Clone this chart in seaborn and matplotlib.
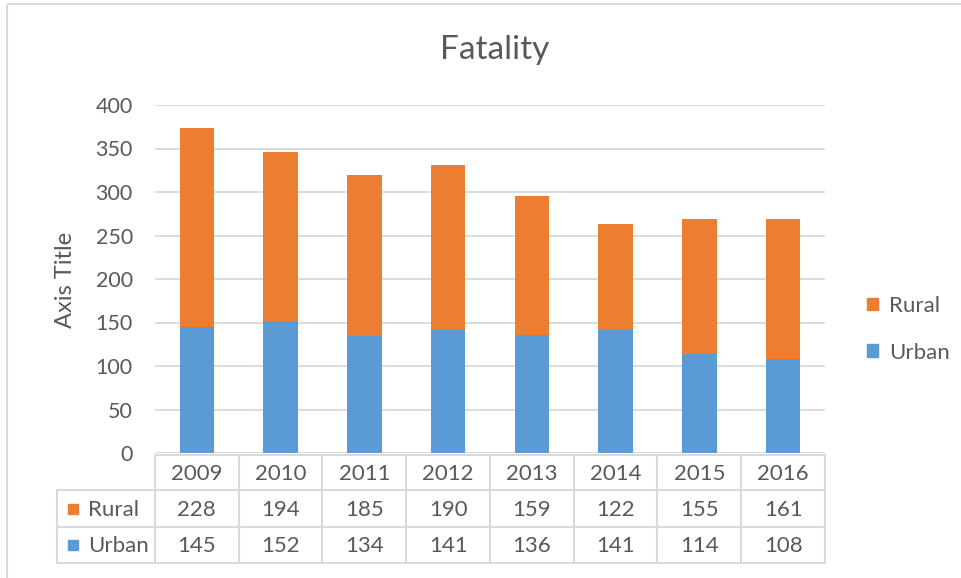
import matplotlib
matplotlib.use("Agg")
import matplotlib.pyplot as plt
from matplotlib.patches import Patch, Rectangle
import seaborn as sns
import pandas as pd

# data
years = ["2009", "2010", "2011", "2012", "2013", "2014", "2015", "2016"]
rural = [228, 194, 185, 190, 159, 122, 155, 161]
urban = [145, 152, 134, 141, 136, 141, 114, 108]

ORANGE = "#ED7D31"
BLUE = "#5B9BD5"
TXT = "#595959"
GRID = "#D9D9D9"
FS = 16

sns.set_theme(style="white")
plt.rcParams["font.family"] = ["Lato", "DejaVu Sans"]

W, H = 962, 578
fig = plt.figure(figsize=(W / 100, H / 100), dpi=100)
fig.patch.set_facecolor("white")

def fx(x):
    return x / W

def fy(y):
    return 1 - y / H

# plot area in pixel coordinates
L, R, T, B = 155, 825, 105, 453
ax = fig.add_axes([fx(L), fy(B), fx(R) - fx(L), fy(T) - fy(B)])

df = pd.DataFrame({"year": years, "Rural": rural, "Urban": urban})
df["total"] = df["Rural"] + df["Urban"]
sns.barplot(data=df, x="year", y="total", color=ORANGE, saturation=1,
            width=0.41, linewidth=0, ax=ax, zorder=3)
sns.barplot(data=df, x="year", y="Urban", color=BLUE, saturation=1,
            width=0.41, linewidth=0, ax=ax, zorder=3)

ax.set_xlim(-0.5, len(years) - 0.5)
ax.set_ylim(0, 400)
ax.set_yticks(range(0, 401, 50))
ax.set_xticks([])
ax.set_xlabel("")
ax.set_ylabel("")
ax.yaxis.grid(True, color=GRID, lw=1.3)
ax.set_axisbelow(True)
for s in ax.spines.values():
    s.set_visible(False)
ax.tick_params(axis="y", length=0, pad=16, labelsize=15.5, labelcolor=TXT)

fig.text(fx(495), fy(50), "Fatality", ha="center", va="center",
         fontsize=24, color=TXT)
fig.text(fx(66), fy(280), "Axis Title", ha="center", va="center",
         rotation=90, fontsize=17, color=TXT)

fig.legend(handles=[Patch(color=ORANGE, label="Rural"),
                    Patch(color=BLUE, label="Urban")],
           loc="upper left", bbox_to_anchor=(fx(847), fy(276)),
           frameon=False, handlelength=0.5, handleheight=0.5,
           labelspacing=1.2, handletextpad=0.5, fontsize=FS,
           labelcolor=TXT)

# overlay in pixel coordinates for the data table and chart border
ov = fig.add_axes([0, 0, 1, 1], zorder=-1)
ov.set_xlim(0, W)
ov.set_ylim(H, 0)
ov.axis("off")
ov.patch.set_alpha(0)

ov.add_patch(Rectangle((7, 4), W, H, fill=False, ec=GRID, lw=1.5))

rows_y = [455, 490, 527, 563]
colw = (R - L) / len(years)
lc = dict(color=GRID, lw=1.5)
ov.plot([L, R], [rows_y[0]] * 2, **lc)
for y in rows_y[1:]:
    ov.plot([57, R], [y, y], **lc)
for i in range(len(years) + 1):
    x = L + i * colw
    ov.plot([x, x], [rows_y[0], rows_y[-1]], **lc)
ov.plot([57, 57], [rows_y[1], rows_y[-1]], **lc)

for i, yr in enumerate(years):
    cx = L + (i + 0.5) * colw
    ov.text(cx, (rows_y[0] + rows_y[1]) / 2 + 1, yr, ha="center",
            va="center", fontsize=FS, color=TXT)
    ov.text(cx, (rows_y[1] + rows_y[2]) / 2 + 1, str(rural[i]), ha="center",
            va="center", fontsize=FS, color=TXT)
    ov.text(cx, (rows_y[2] + rows_y[3]) / 2 + 1, str(urban[i]), ha="center",
            va="center", fontsize=FS, color=TXT)

for name, col, r in [("Rural", ORANGE, 1), ("Urban", BLUE, 2)]:
    cy = (rows_y[r] + rows_y[r + 1]) / 2
    ov.add_patch(Rectangle((68, cy - 5), 10, 10, color=col))
    ov.text(88, cy + 1, name, ha="left", va="center", fontsize=FS, color=TXT)

fig.savefig("out.png", dpi=100)
